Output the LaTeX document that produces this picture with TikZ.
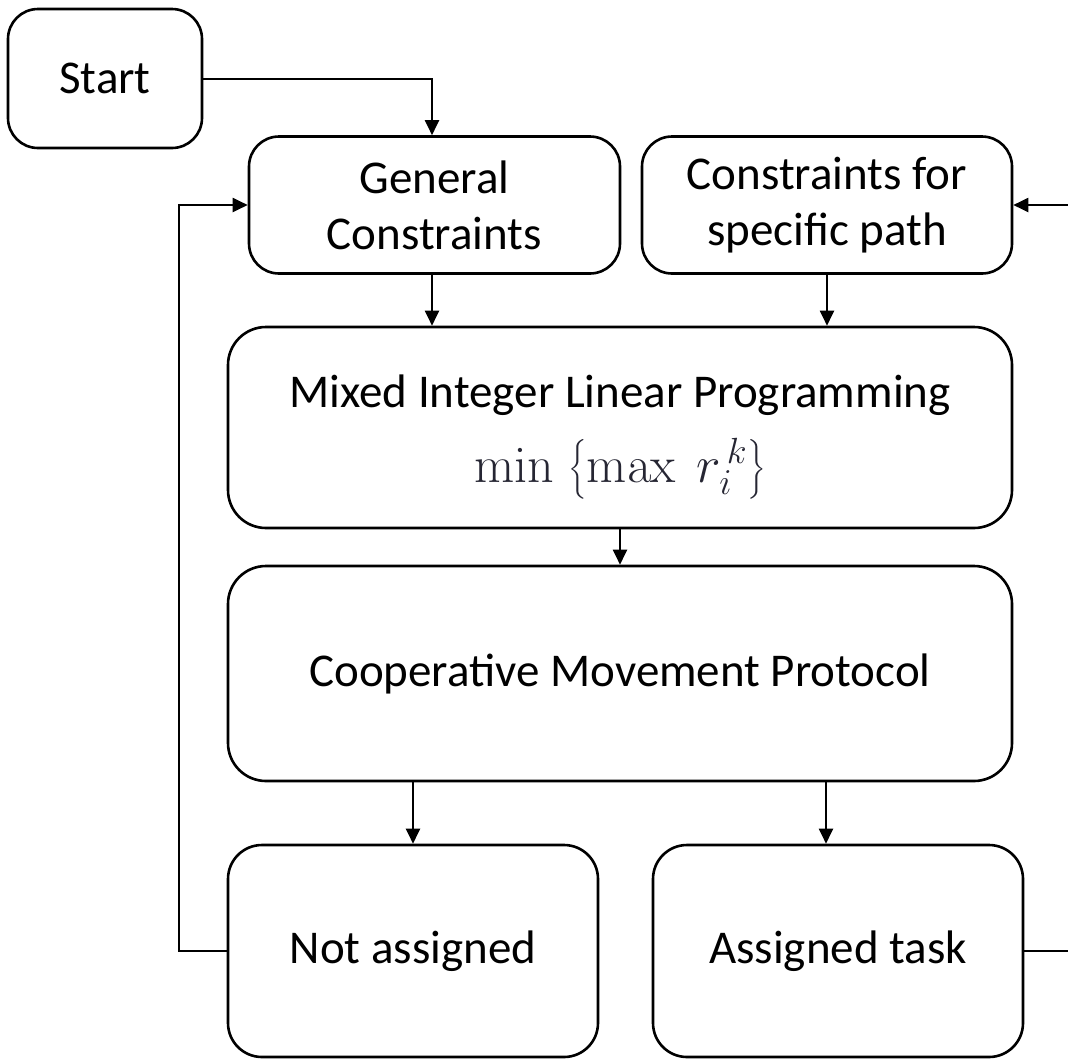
\RequirePackage{fix-cm}
\documentclass[tikz,border=0pt]{standalone}
\usepackage{amsmath}
\usepackage[no-math]{fontspec}
\setmainfont{Carlito}
\usetikzlibrary{arrows.meta}
\definecolor{mathink}{rgb}{0.15,0.15,0.2}
\tikzset{
  boxtext/.style={align=center, inner sep=0pt, font=\fontsize{47}{56}\selectfont},
  flowbox/.style={draw, line width=2.6pt, rounded corners=30pt, boxtext},
  flowarrow/.style={line width=2pt, -{Triangle[length=15pt,width=14pt]}},
}
\begin{document}
\begin{tikzpicture}[x=1pt,y=-1pt]
\useasboundingbox (0,0) rectangle (1068,1058);
\clip (0,0) rectangle (1068,1058);

% boxes
\node[flowbox, minimum width=194pt, minimum height=139pt] (start) at (105,78.5) {Start};
\node[flowbox, minimum width=371pt, minimum height=137pt] (gen) at (434.5,205) {General\\Constraints};
\node[flowbox, minimum width=370pt, minimum height=137pt] (spec) at (827,205) {Constraints for\\specific path};
\node[flowbox, minimum width=784pt, minimum height=201pt, rounded corners=38pt] (milp) at (620,427.5) {};
\node[boxtext] (milptitle) at (620,395) {Mixed Integer Linear Programming};
\node[boxtext, anchor=base] (milpgoal) at (620,482)
  {\fontsize{52}{46}\selectfont\color{mathink}$\min\;\bigl\{\max\ r_i^{\,k}\bigr\}$};
\node[flowbox, minimum width=784pt, minimum height=215pt, rounded corners=38pt] (cmp) at (620,673.5)
  {Cooperative Movement Protocol};
\node[flowbox, minimum width=370pt, minimum height=212pt, rounded corners=34pt] (nota) at (413,951) {Not assigned};
\node[flowbox, minimum width=370pt, minimum height=212pt, rounded corners=34pt] (asg) at (838,951) {Assigned task};

% connectors
\draw[flowarrow] (start.east) -| ([xshift=-2.5pt]gen.north);
\draw[flowarrow] ([xshift=-2.5pt]gen.south) -- ([xshift=-2.5pt]gen.south |- milp.north);
\draw[flowarrow] (spec.south) -- (spec.south |- milp.north);
\draw[flowarrow] (milp.south) -- (cmp.north);
\draw[flowarrow] (nota.north |- cmp.south) -- (nota.north);
\draw[flowarrow] ([xshift=-12pt]asg.north |- cmp.south) -- ([xshift=-12pt]asg.north);
\draw[flowarrow] (nota.west) -- ++(-48,0) |- (gen.west);
\draw[flowarrow] (asg.east) -- ++(60,0) |- (spec.east);
\end{tikzpicture}
\end{document}
